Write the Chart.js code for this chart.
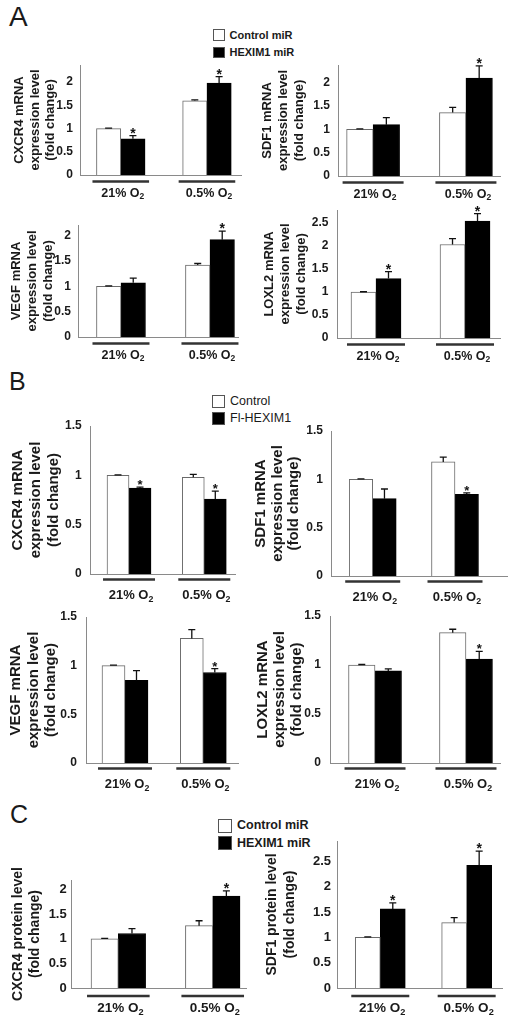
<!DOCTYPE html>
<html>
<head>
<meta charset="utf-8">
<script src="https://cdn.jsdelivr.net/npm/chart.js@4.4.1/dist/chart.umd.min.js"></script>
<style>
  body { margin: 0; background: #fff; width: 512px; height: 1026px; position: relative; overflow: hidden;
         font-family: 'Liberation Sans', Arial, Helvetica, sans-serif; color: #1a1a1a; }
  canvas { position: absolute; }
  .letter { position: absolute; line-height: 1; }
  .sw { position: absolute; box-sizing: border-box; border: 1px solid #555; }
  .kt { position: absolute; line-height: 1; white-space: nowrap; }
</style>
</head>
<body>
<div class="letter" style="left:9px;top:3px;font-size:28px">A</div>
<div class="letter" style="left:9px;top:369px;font-size:25px">B</div>
<div class="letter" style="left:10px;top:802px;font-size:25px">C</div>
<div id="keys"></div>

<script>
// ---- data ----
const oxygen = ['21%', '0.5%'];               // drawn as "21% O" + subscript 2
const legendMiR = ['Control miR', 'HEXIM1 miR'];
const legendFl = ['Control', 'Fl-HEXIM1'];

// A: mRNA, control miR vs HEXIM1 miR
const aCxcr4Ctrl = [1.00, 1.60], aCxcr4CtrlErr = [0.01, 0.02];
const aCxcr4Hex = [0.78, 1.98], aCxcr4HexErr = [0.07, 0.14], aCxcr4Star = [true, true];
const aSdf1Ctrl = [1.00, 1.36], aSdf1CtrlErr = [0.01, 0.11];
const aSdf1Hex = [1.10, 2.10], aSdf1HexErr = [0.15, 0.26], aSdf1Star = [false, true];
const aVegfCtrl = [1.00, 1.42], aVegfCtrlErr = [0.01, 0.03];
const aVegfHex = [1.07, 1.92], aVegfHexErr = [0.09, 0.17], aVegfStar = [false, true];
const aLoxl2Ctrl = [1.00, 2.03], aLoxl2CtrlErr = [0.005, 0.13];
const aLoxl2Hex = [1.29, 2.54], aLoxl2HexErr = [0.15, 0.16], aLoxl2Star = [true, true];

// B: mRNA, control vs Fl-HEXIM1
const bCxcr4Ctrl = [1.00, 0.98], bCxcr4CtrlErr = [0.005, 0.03];
const bCxcr4Hex = [0.87, 0.76], bCxcr4HexErr = [0.01, 0.08], bCxcr4Star = [true, true];
const bSdf1Ctrl = [1.00, 1.18], bSdf1CtrlErr = [0.005, 0.05];
const bSdf1Hex = [0.80, 0.845], bSdf1HexErr = [0.10, 0.015], bSdf1Star = [false, true];
const bVegfCtrl = [1.00, 1.28], bVegfCtrlErr = [0.005, 0.09];
const bVegfHex = [0.85, 0.93], bVegfHexErr = [0.10, 0.04], bVegfStar = [false, true];
const bLoxl2Ctrl = [1.00, 1.33], bLoxl2CtrlErr = [0.005, 0.035];
const bLoxl2Hex = [0.94, 1.06], bLoxl2HexErr = [0.02, 0.08], bLoxl2Star = [false, true];

// C: protein, control miR vs HEXIM1 miR
const cCxcr4Ctrl = [1.00, 1.27], cCxcr4CtrlErr = [0.01, 0.10];
const cCxcr4Hex = [1.11, 1.87], cCxcr4HexErr = [0.10, 0.11], cCxcr4Star = [false, true];
const cSdf1Ctrl = [1.00, 1.29], cSdf1CtrlErr = [0.01, 0.10];
const cSdf1Hex = [1.56, 2.42], cSdf1HexErr = [0.12, 0.28], cSdf1Star = [true, true];

// ---- look ----
Chart.defaults.font.family = "'Liberation Sans', Arial, Helvetica, sans-serif";
Chart.defaults.color = '#1a1a1a';

const fontsA = { tick: 12, title: 13, label: 12.5, star: 14, bold: 'bold', lineOff: 6.5, labelOff: 17 };
const fontsB = { tick: 12, title: 15, label: 13, star: 13, bold: 'bold', lineOff: 5.5, labelOff: 20 };
const fontsC = { tick: 13, title: 14, label: 13.5, star: 14, bold: 'bold', lineOff: 8, labelOff: 19.5 };

function decorations(spec) {
  return {
    id: 'decorations',
    afterDatasetsDraw(chart) {
      const { ctx, scales: { x, y } } = chart;
      const f = spec.fonts;
      ctx.save();
      chart.data.datasets.forEach((ds, di) => {
        chart.getDatasetMeta(di).data.forEach((bar, i) => {
          const top = y.getPixelForValue(ds.data[i].y + ds.err[i]);
          ctx.strokeStyle = '#111';
          ctx.lineWidth = 1.3;
          ctx.beginPath();
          ctx.moveTo(bar.x, bar.y);
          ctx.lineTo(bar.x, top);
          ctx.moveTo(bar.x - 3.5, top);
          ctx.lineTo(bar.x + 3.5, top);
          ctx.stroke();
          if (ds.star && ds.star[i]) {
            ctx.fillStyle = '#111';
            ctx.font = 'bold ' + f.star + 'px ' + Chart.defaults.font.family;
            ctx.textAlign = 'center';
            ctx.textBaseline = 'alphabetic';
            ctx.fillText('*', bar.x, top + 2);
          }
        });
      });
      // group underline + O2 label
      const base = y.getPixelForValue(0);
      oxygen.forEach((g, i) => {
        const cx = x.getPixelForValue(i + 1);
        const half = spec.barW + 4;
        ctx.strokeStyle = '#333';
        ctx.lineWidth = 2.5;
        ctx.beginPath();
        ctx.moveTo(cx - half, base + f.lineOff);
        ctx.lineTo(cx + half, base + f.lineOff);
        ctx.stroke();
        const main = g + ' O';
        const big = f.bold + ' ' + f.label + 'px ' + Chart.defaults.font.family;
        const small = f.bold + ' ' + (f.label * 0.68).toFixed(1) + 'px ' + Chart.defaults.font.family;
        ctx.font = big;
        const w1 = ctx.measureText(main).width;
        ctx.font = small;
        const w2 = ctx.measureText('2').width;
        const sx = cx - (w1 + w2) / 2 + 2;
        const by = base + f.labelOff + f.label * 0.36;
        ctx.fillStyle = '#1a1a1a';
        ctx.textAlign = 'left';
        ctx.textBaseline = 'alphabetic';
        ctx.font = big;
        ctx.fillText(main, sx, by);
        ctx.font = small;
        ctx.fillText('2', sx + w1, by + f.label * 0.22);
      });
      ctx.restore();
    }
  };
}

function drawChart(spec) {
  const cv = document.createElement('canvas');
  const box = spec.canvas;
  cv.width = box.w; cv.height = box.h;
  cv.style.left = box.x + 'px'; cv.style.top = box.y + 'px';
  document.body.appendChild(cv);
  const ax = spec.axis, f = spec.fonts;
  const series = (vals) => vals.map((v, i) => ({ x: i + 1, y: v }));
  new Chart(cv.getContext('2d'), {
    type: 'bar',
    data: {
      datasets: [
        { data: series(spec.ctrl), err: spec.ctrlErr, backgroundColor: '#ffffff', borderColor: '#6a6a6a', borderWidth: 1 },
        { data: series(spec.hex), err: spec.hexErr, star: spec.star, backgroundColor: '#000000', borderColor: '#000000', borderWidth: 1 }
      ]
    },
    options: {
      responsive: false,
      animation: false,
      events: [],
      barThickness: spec.barW,
      layout: { padding: { left: 0, top: ax.t - box.y, right: box.x + box.w - ax.r, bottom: box.y + box.h - ax.b } },
      plugins: { legend: { display: false }, tooltip: { enabled: false } },
      scales: {
        x: {
          type: 'linear', min: spec.xr[0], max: spec.xr[1], offset: false,
          grid: { display: false, drawTicks: false },
          ticks: { display: false },
          border: { color: '#8a8a8a', width: 1 },
          afterFit: s => { s.height = 0; }
        },
        y: {
          min: 0, max: spec.yMax,
          grid: { display: false, drawTicks: false },
          border: { color: '#8a8a8a', width: 1 },
          ticks: { stepSize: 0.5, includeBounds: false, padding: spec.tickPad,
                   font: { size: f.tick, weight: f.bold }, color: '#1a1a1a', callback: v => String(v) },
          title: { display: true, text: spec.title, color: '#1a1a1a',
                   font: { size: f.title, weight: f.bold, lineHeight: spec.lh + 'px' },
                   padding: { top: spec.titleX - box.x - spec.lh / 2, bottom: 0 } },
          afterFit: s => { s.width = ax.l - box.x; }
        }
      }
    },
    plugins: [decorations(spec)]
  });
}

const L = (t, b) => ({ x: 0, y: t - 22, w: 256, h: b - t + 54 });
const R = (t, b) => ({ x: 240, y: t - 22, w: 272, h: b - t + 54 });

drawChart({ canvas: L(65, 175), axis: { l: 80, t: 65, r: 241, b: 175 }, yMax: 2.37, xr: [0.527, 2.395], barW: 24.3,
  title: ['CXCR4 mRNA', 'expression level', '(fold change)'], titleX: 19.5, lh: 15.5, tickPad: 7, fonts: fontsA,
  ctrl: aCxcr4Ctrl, ctrlErr: aCxcr4CtrlErr, hex: aCxcr4Hex, hexErr: aCxcr4HexErr, star: aCxcr4Star });
drawChart({ canvas: R(65, 176.5), axis: { l: 338, t: 65, r: 500, b: 176.5 }, yMax: 2.38, xr: [0.622, 2.367], barW: 26.5,
  title: ['SDF1 mRNA', 'expression level', '(fold change)'], titleX: 267, lh: 16, tickPad: 8, fonts: fontsA,
  ctrl: aSdf1Ctrl, ctrlErr: aSdf1CtrlErr, hex: aSdf1Hex, hexErr: aSdf1HexErr, star: aSdf1Star });
drawChart({ canvas: L(225, 337.5), axis: { l: 78, t: 225, r: 238, b: 337.5 }, yMax: 2.21, xr: [0.517, 2.315], barW: 24.5,
  title: ['VEGF mRNA', 'expression level', '(fold change)'], titleX: 16, lh: 16, tickPad: 7, fonts: fontsA,
  ctrl: aVegfCtrl, ctrlErr: aVegfCtrlErr, hex: aVegfHex, hexErr: aVegfHexErr, star: aVegfStar });
drawChart({ canvas: R(210, 338), axis: { l: 337, t: 210, r: 500, b: 338 }, yMax: 2.78, xr: [0.562, 2.393], barW: 25,
  title: ['LOXL2 mRNA', 'expression level', '(fold change)'], titleX: 269, lh: 16, tickPad: 8.5, fonts: fontsA,
  ctrl: aLoxl2Ctrl, ctrlErr: aLoxl2CtrlErr, hex: aLoxl2Hex, hexErr: aLoxl2HexErr, star: aLoxl2Star });

drawChart({ canvas: L(426, 574), axis: { l: 90.7, t: 426, r: 235, b: 574 }, yMax: 1.5, xr: [0.491, 2.408], barW: 22,
  title: ['CXCR4 mRNA', 'expression level', '(fold change)'], titleX: 17.5, lh: 18, tickPad: 9, fonts: fontsB,
  ctrl: bCxcr4Ctrl, ctrlErr: bCxcr4CtrlErr, hex: bCxcr4Hex, hexErr: bCxcr4HexErr, star: bCxcr4Star });
drawChart({ canvas: R(431, 576), axis: { l: 331, t: 431, r: 507, b: 576 }, yMax: 1.5, xr: [0.493, 2.632], barW: 23.5,
  title: ['SDF1 mRNA', 'expression level', '(fold change)'], titleX: 261, lh: 16.5, tickPad: 8, fonts: fontsB,
  ctrl: bSdf1Ctrl, ctrlErr: bSdf1CtrlErr, hex: bSdf1Hex, hexErr: bSdf1HexErr, star: bSdf1Star });
drawChart({ canvas: L(617, 763.3), axis: { l: 86, t: 617, r: 238.3, b: 763.3 }, yMax: 1.5, xr: [0.502, 2.447], barW: 23,
  title: ['VEGF mRNA', 'expression level', '(fold change)'], titleX: 16, lh: 17.5, tickPad: 9, fonts: fontsB,
  ctrl: bVegfCtrl, ctrlErr: bVegfCtrlErr, hex: bVegfHex, hexErr: bVegfHexErr, star: bVegfStar });
drawChart({ canvas: R(616, 763.3), axis: { l: 330, t: 616, r: 500, b: 763.3 }, yMax: 1.5, xr: [0.505, 2.374], barW: 26.5,
  title: ['LOXL2 mRNA', 'expression level', '(fold change)'], titleX: 263, lh: 17, tickPad: 9, fonts: fontsB,
  ctrl: bLoxl2Ctrl, ctrlErr: bLoxl2CtrlErr, hex: bLoxl2Hex, hexErr: bLoxl2HexErr, star: bLoxl2Star });

drawChart({ canvas: L(880, 988), axis: { l: 71.7, t: 880, r: 246.7, b: 988 }, yMax: 2.2, xr: [0.506, 2.36], barW: 27.3,
  title: ['CXCR4 protein level', '(fold change)'], titleX: 18, lh: 17, tickPad: 5, fonts: fontsC,
  ctrl: cCxcr4Ctrl, ctrlErr: cCxcr4CtrlErr, hex: cCxcr4Hex, hexErr: cCxcr4HexErr, star: cCxcr4Star });
drawChart({ canvas: R(841, 988.5), axis: { l: 337.7, t: 841, r: 502, b: 988.5 }, yMax: 2.9, xr: [0.507, 2.409], barW: 25,
  title: ['SDF1 protein level', '(fold change)'], titleX: 272, lh: 18, tickPad: 6.7, fonts: fontsC,
  ctrl: cSdf1Ctrl, ctrlErr: cSdf1CtrlErr, hex: cSdf1Hex, hexErr: cSdf1HexErr, star: cSdf1Star });

// ---- legends ----
function legend(names, x, rows, sq, size, weight) {
  const keys = document.getElementById('keys');
  names.forEach((name, i) => {
    const r = rows[i];
    const s = document.createElement('div');
    s.className = 'sw';
    s.style.cssText = `left:${x}px;top:${r - sq / 2}px;width:${sq}px;height:${sq}px;background:${i ? '#000' : '#fff'}`;
    keys.appendChild(s);
    const t = document.createElement('div');
    t.className = 'kt';
    t.textContent = name;
    t.style.cssText = `left:${x + sq + 5}px;top:${r - size * 0.49}px;font-size:${size}px;font-weight:${weight}`;
    keys.appendChild(t);
  });
}
legend(legendMiR, 213, [35, 52.5], 11.5, 11, 'bold');
legend(legendFl, 212, [401, 418], 13, 12.5, 'normal');
legend(legendMiR, 218, [825.5, 843], 14, 12.5, 'bold');
</script>
</body>
</html>
